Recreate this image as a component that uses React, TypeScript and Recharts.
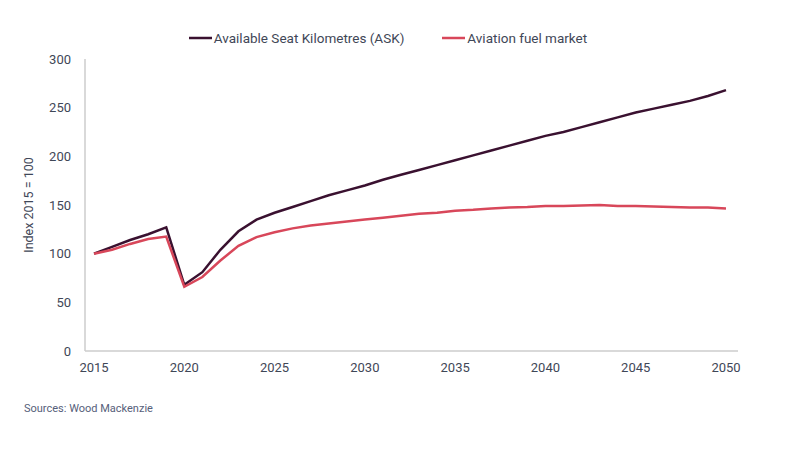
import React from 'react';
import { LineChart, Line, XAxis, YAxis } from 'recharts';

const years = Array.from({ length: 36 }, (_, i) => String(2015 + i));
const askValues = [100, 107, 114, 120, 127, 68, 81, 104, 123, 135, 142, 148, 154, 160, 165, 170, 176, 181, 186, 191, 196, 201, 206, 211, 216, 221, 225, 230, 235, 240, 245, 249, 253, 257, 262, 268];
const fuelValues = [100, 104, 110, 115, 117.5, 66, 76, 93, 108, 117, 122, 126, 129, 131, 133, 135, 137, 139, 141, 142, 144, 145, 146.5, 147.5, 148, 149, 149, 149.5, 150, 149, 149, 148.5, 148, 147.5, 147.5, 146.5];
const xTicks = ['2015', '2020', '2025', '2030', '2035', '2040', '2045', '2050'];
const yTicks = [0, 50, 100, 150, 200, 250, 300];

const ASK_NAME = 'Available Seat Kilometres (ASK)';
const FUEL_NAME = 'Aviation fuel market';
const ASK_COLOR = '#3a1130';
const FUEL_COLOR = '#d8475a';
const TEXT_COLOR = '#3f4757';
const FONT = 'Roboto, "Noto Sans", sans-serif';

const data = years.map((y, i) => ({ year: y, ask: askValues[i], fuel: fuelValues[i] }));

const LegendBlock = () => (
  <div style={{ position: 'absolute', top: 30, left: 0, width: 800, display: 'flex', justifyContent: 'center', fontFamily: FONT, fontSize: 13.5, color: TEXT_COLOR, gap: 38 }}>
    <div style={{ display: 'flex', gap: 38, marginLeft: -24 }}>
      {[{ n: ASK_NAME, c: ASK_COLOR }, { n: FUEL_NAME, c: FUEL_COLOR }].map((it) => (
        <div key={it.n} style={{ display: 'flex', alignItems: 'center' }}>
          <svg width={23} height={10} style={{ marginRight: 2 }}>
            <line x1={0} y1={5} x2={23} y2={5} stroke={it.c} strokeWidth={2.5} />
          </svg>
          <span>{it.n}</span>
        </div>
      ))}
    </div>
  </div>
);

export default function App() {
  return (
    <div style={{ position: 'absolute', left: 0, top: 0, width: 800, height: 450, background: '#fff' }}>
      <LineChart width={800} height={450} data={data} margin={{ top: 59, right: 62, bottom: 69, left: 0 }}>
        <XAxis
          dataKey="year"
          ticks={xTicks}
          interval={0}
          tickLine={false}
          height={30}
          tickMargin={6}
          padding={{ left: 9, right: 12 }}
          axisLine={{ stroke: '#cccccc', strokeWidth: 1.5 }}
          tick={{ fill: TEXT_COLOR, fontSize: 13, fontFamily: FONT }}
        />
        <YAxis
          domain={[0, 300]}
          ticks={yTicks}
          width={85}
          tickLine={false}
          tickMargin={8}
          axisLine={{ stroke: '#cccccc', strokeWidth: 1.5 }}
          tick={{ fill: TEXT_COLOR, fontSize: 13, fontFamily: FONT }}
          label={{
            content: () => (
              <text x={28} y={205} transform="rotate(-90 28 205)" textAnchor="middle" dominantBaseline="central" fill={TEXT_COLOR} fontSize={12.5} fontFamily={FONT}>
                Index 2015 = 100
              </text>
            ),
          }}
        />
        <Line type="linear" dataKey="ask" name={ASK_NAME} stroke={ASK_COLOR} strokeWidth={2.5} dot={false} isAnimationActive={false} />
        <Line type="linear" dataKey="fuel" name={FUEL_NAME} stroke={FUEL_COLOR} strokeWidth={2.5} dot={false} isAnimationActive={false} />
      </LineChart>
      <LegendBlock />
      <div style={{ position: 'absolute', left: 24, top: 402, fontFamily: FONT, fontSize: 11, color: '#56607a' }}>Sources: Wood Mackenzie</div>
    </div>
  );
}
